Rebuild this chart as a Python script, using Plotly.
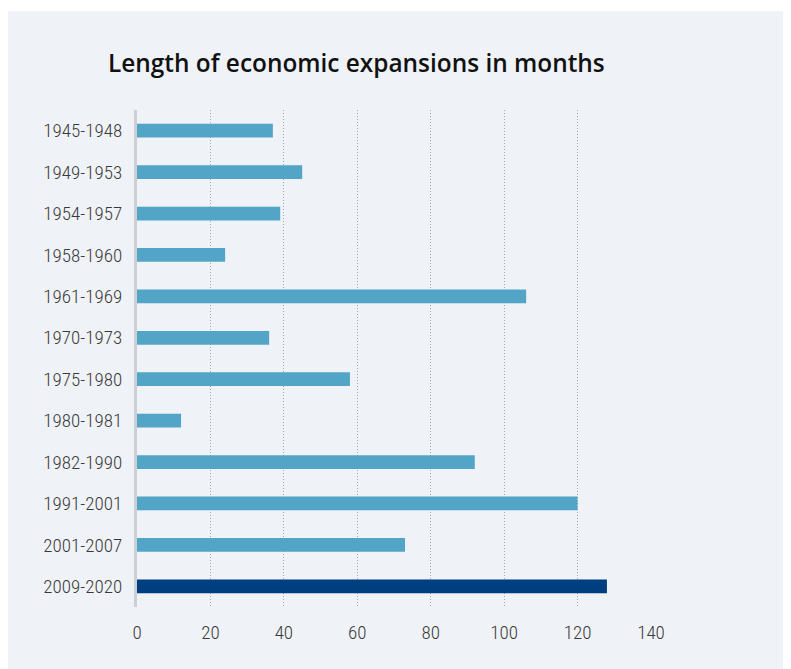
import plotly.graph_objects as go

periods = ["1945-1948", "1949-1953", "1954-1957", "1958-1960", "1961-1969", "1970-1973",
           "1975-1980", "1980-1981", "1982-1990", "1991-2001", "2001-2007", "2009-2020"]
months = [37, 45, 39, 24, 106, 36, 58, 12, 92, 120, 73, 128]
x_ticks = [0, 20, 40, 60, 80, 100, 120, 140]
title_text = "Length of economic expansions in months"

colors = ["#52A5C6"] * (len(periods) - 1) + ["#003F7F"]

W, H = 783, 661
L, R, T, B = 129, 140, 102, 62
pw, ph = W - L - R, H - T - B

fig = go.Figure(go.Bar(
    x=months, y=periods, orientation="h",
    marker=dict(color=colors, line=dict(width=0)),
    width=0.33,
))

bg = "#EFF2F6"
fig.add_shape(type="rect", xref="paper", yref="paper", layer="below",
              x0=-(L + 5) / pw, x1=1 + (R + 5) / pw,
              y0=-(B + 5) / ph, y1=1 + (T - 3) / ph,
              fillcolor=bg, line=dict(width=0))

tick_font = dict(family="Roboto Condensed, DejaVu Sans Condensed, Roboto", size=19,
                 color="#3A3A3A", weight=300)

fig.update_layout(
    width=W, height=H,
    margin=dict(l=L, r=R, t=T, b=B),
    paper_bgcolor="white", plot_bgcolor=bg,
    showlegend=False,
    title=dict(text=title_text, x=100 / W, xref="container", xanchor="left",
               y=1 - 55 / H, yref="container", yanchor="middle",
               font=dict(family="Open Sans", size=24.4, color="#111111", weight=600)),
    xaxis=dict(range=[0, 140], tickvals=x_ticks, showgrid=True,
               gridcolor="#A3A8AE", griddash="1px,2px", gridwidth=1,
               zeroline=False, showline=False,
               ticks="outside", ticklen=8, tickcolor="rgba(0,0,0,0)",
               tickfont=tick_font, fixedrange=True),
    yaxis=dict(categoryorder="array", categoryarray=periods[::-1],
               range=[-0.5, len(periods) - 0.5],
               showgrid=False, zeroline=False,
               showline=True, linecolor="#CDCFD2", linewidth=3,
               ticks="outside", ticklen=8, tickcolor="rgba(0,0,0,0)",
               tickfont=tick_font, fixedrange=True),
)

fig.write_html("out.html")
